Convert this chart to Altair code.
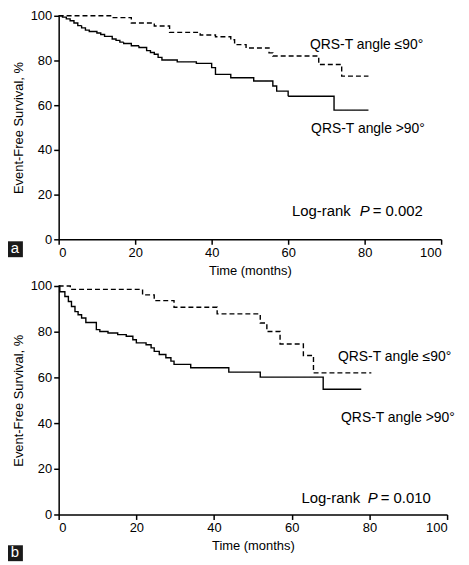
import altair as alt
import pandas as pd

# ---------------- data ----------------
# Panel a
a_le_t = [0, 14, 19, 25, 29, 37, 41, 45, 46, 49, 55, 56, 68, 74, 81]
a_le_s = [100, 99.2, 96.8, 95.4, 92.6, 91.4, 90.6, 89.3, 87.1, 85.6, 83.4, 82.0, 78.2, 73.0, 73.0]
a_gt_t = [0, 1, 2, 3, 4, 5, 6, 7, 8, 10, 11, 12, 14, 15, 16, 17, 19, 21, 23, 24,
          25, 26, 27, 31, 36, 40, 41, 45, 51, 56, 57, 60, 72, 81]
a_gt_s = [100, 99.4, 98.6, 97.8, 96.8, 95.6, 94.6, 93.6, 93.0, 92.3, 91.6, 90.8, 89.6, 89.0, 88.2, 87.6, 86.6, 85.8, 84.4, 83.6,
          82.8, 81.4, 80.2, 79.4, 78.7, 76.8, 73.8, 72.3, 70.8, 68.6, 66.3, 64.0, 57.8, 57.8]

# Panel b
b_le_t = [0, 3, 21.6, 24.6, 29.7, 40.8, 51.9, 53.6, 57, 63, 65.6, 80.5]
b_le_s = [100, 98.5, 96.1, 93.6, 90.7, 87.8, 83.8, 80.1, 74.6, 69.6, 62.0, 62.0]
b_gt_t = [0, 0.3, 1.6, 2.5, 3.3, 4.2, 5, 5.9, 7, 9.7, 10.6, 12.7, 15.2, 17.4, 19.1, 20, 22.5, 23.8, 24.6, 25.9,
          27.6, 28.9, 29.7, 34, 43.8, 51.9, 68.1, 77.9]
b_gt_s = [100, 97.5, 95.4, 93.2, 91, 88.8, 87.4, 86, 84, 80.9, 80.1, 79.4, 78.7, 78, 76.5, 75.1, 74.3, 72.9, 71.4, 70,
          68.6, 67.1, 65.7, 64.2, 62.3, 60.1, 54.8, 54.8]

ticks = [0, 20, 40, 60, 80, 100]
label_le = "QRS-T angle ≤90°"
label_gt = "QRS-T angle >90°"

# annotation positions (data units): label, x, y
a_notes = [(label_le, 65.7, 87.0), (label_gt, 66.0, 49.2)]
b_notes = [(label_le, 71.9, 69.1), (label_gt, 72.7, 42.2)]
a_p = ("0.002", 61.0, 78.7, 82.1, 12.8)
b_p = ("0.010", 62.5, 79.6, 82.9, 7.0)

FONT = "Liberation Sans"


def panel(le_t, le_s, gt_t, gt_s, notes, pinfo, w, h, letter, box_y):
    df = pd.concat([
        pd.DataFrame({"t": le_t, "s": le_s, "g": "le"}),
        pd.DataFrame({"t": gt_t, "s": gt_s, "g": "gt"}),
    ])
    x = alt.X("t:Q", scale=alt.Scale(domain=[0, 100], nice=False),
              axis=alt.Axis(values=ticks, title="Time (months)"))
    y = alt.Y("s:Q", scale=alt.Scale(domain=[0, 100], nice=False),
              axis=alt.Axis(values=ticks, title="Event-Free Survival, %"))
    lines = alt.Chart(df).mark_line(interpolate="step-after", color="black", strokeWidth=1.4).encode(
        x=x, y=y,
        strokeDash=alt.StrokeDash("g:N", scale=alt.Scale(domain=["le", "gt"], range=[[5, 3], [1, 0]]),
                                  legend=None),
        detail="g:N",
    )
    ndf = pd.DataFrame({"txt": [n[0] for n in notes], "x": [n[1] for n in notes], "y": [n[2] for n in notes]})
    note_txt = alt.Chart(ndf).mark_text(align="left", baseline="middle", font=FONT, fontSize=14,
                                        color="black").encode(x="x:Q", y="y:Q", text="txt:N")
    pv, x1, x2, x3, yy = pinfo
    pdf1 = pd.DataFrame({"txt": ["Log-rank", "= " + pv], "x": [x1, x3], "y": [yy, yy]})
    pdf2 = pd.DataFrame({"txt": ["P"], "x": [x2], "y": [yy]})
    p1 = alt.Chart(pdf1).mark_text(align="left", baseline="middle", font=FONT, fontSize=15,
                                   color="black").encode(x="x:Q", y="y:Q", text="txt:N")
    p2 = alt.Chart(pdf2).mark_text(align="left", baseline="middle", font=FONT, fontSize=15, fontStyle="italic",
                                   color="black").encode(x="x:Q", y="y:Q", text="txt:N")
    ldf = pd.DataFrame({"txt": [letter]})
    box = alt.Chart(ldf).mark_rect(color="#1a1a1a").encode(
        x=alt.value(-53), x2=alt.value(-36), y=alt.value(h + box_y), y2=alt.value(h + box_y + 16))
    boxt = alt.Chart(ldf).mark_text(color="white", font=FONT, fontSize=15, baseline="middle",
                                    align="center").encode(
        x=alt.value(-44), y=alt.value(h + box_y + 7), text="txt:N")
    return alt.layer(lines, note_txt, p1, p2, box, boxt).properties(width=w, height=h)


top = panel(a_le_t, a_le_s, a_gt_t, a_gt_s, a_notes, a_p, 385, 225, "a", 2)
bottom = panel(b_le_t, b_le_s, b_gt_t, b_gt_s, b_notes, b_p, 391, 230, "b", 31)

chart = alt.vconcat(top, bottom, spacing=3).properties(
    padding={"left": -2, "top": 0, "right": 5, "bottom": 0},
    background="white",
).configure_view(stroke=None).configure_axis(
    grid=False, labelFont=FONT, labelFontSize=13, labelColor="black",
    titleFont=FONT, titleFontSize=13, titleFontWeight="normal", titleColor="black",
    domainColor="black", domainWidth=1.5, tickColor="black", tickWidth=1.5, tickSize=5,
    labelPadding=2, titlePadding=5,
)

chart.save("out.html", embed_options={"renderer": "svg", "actions": False})
